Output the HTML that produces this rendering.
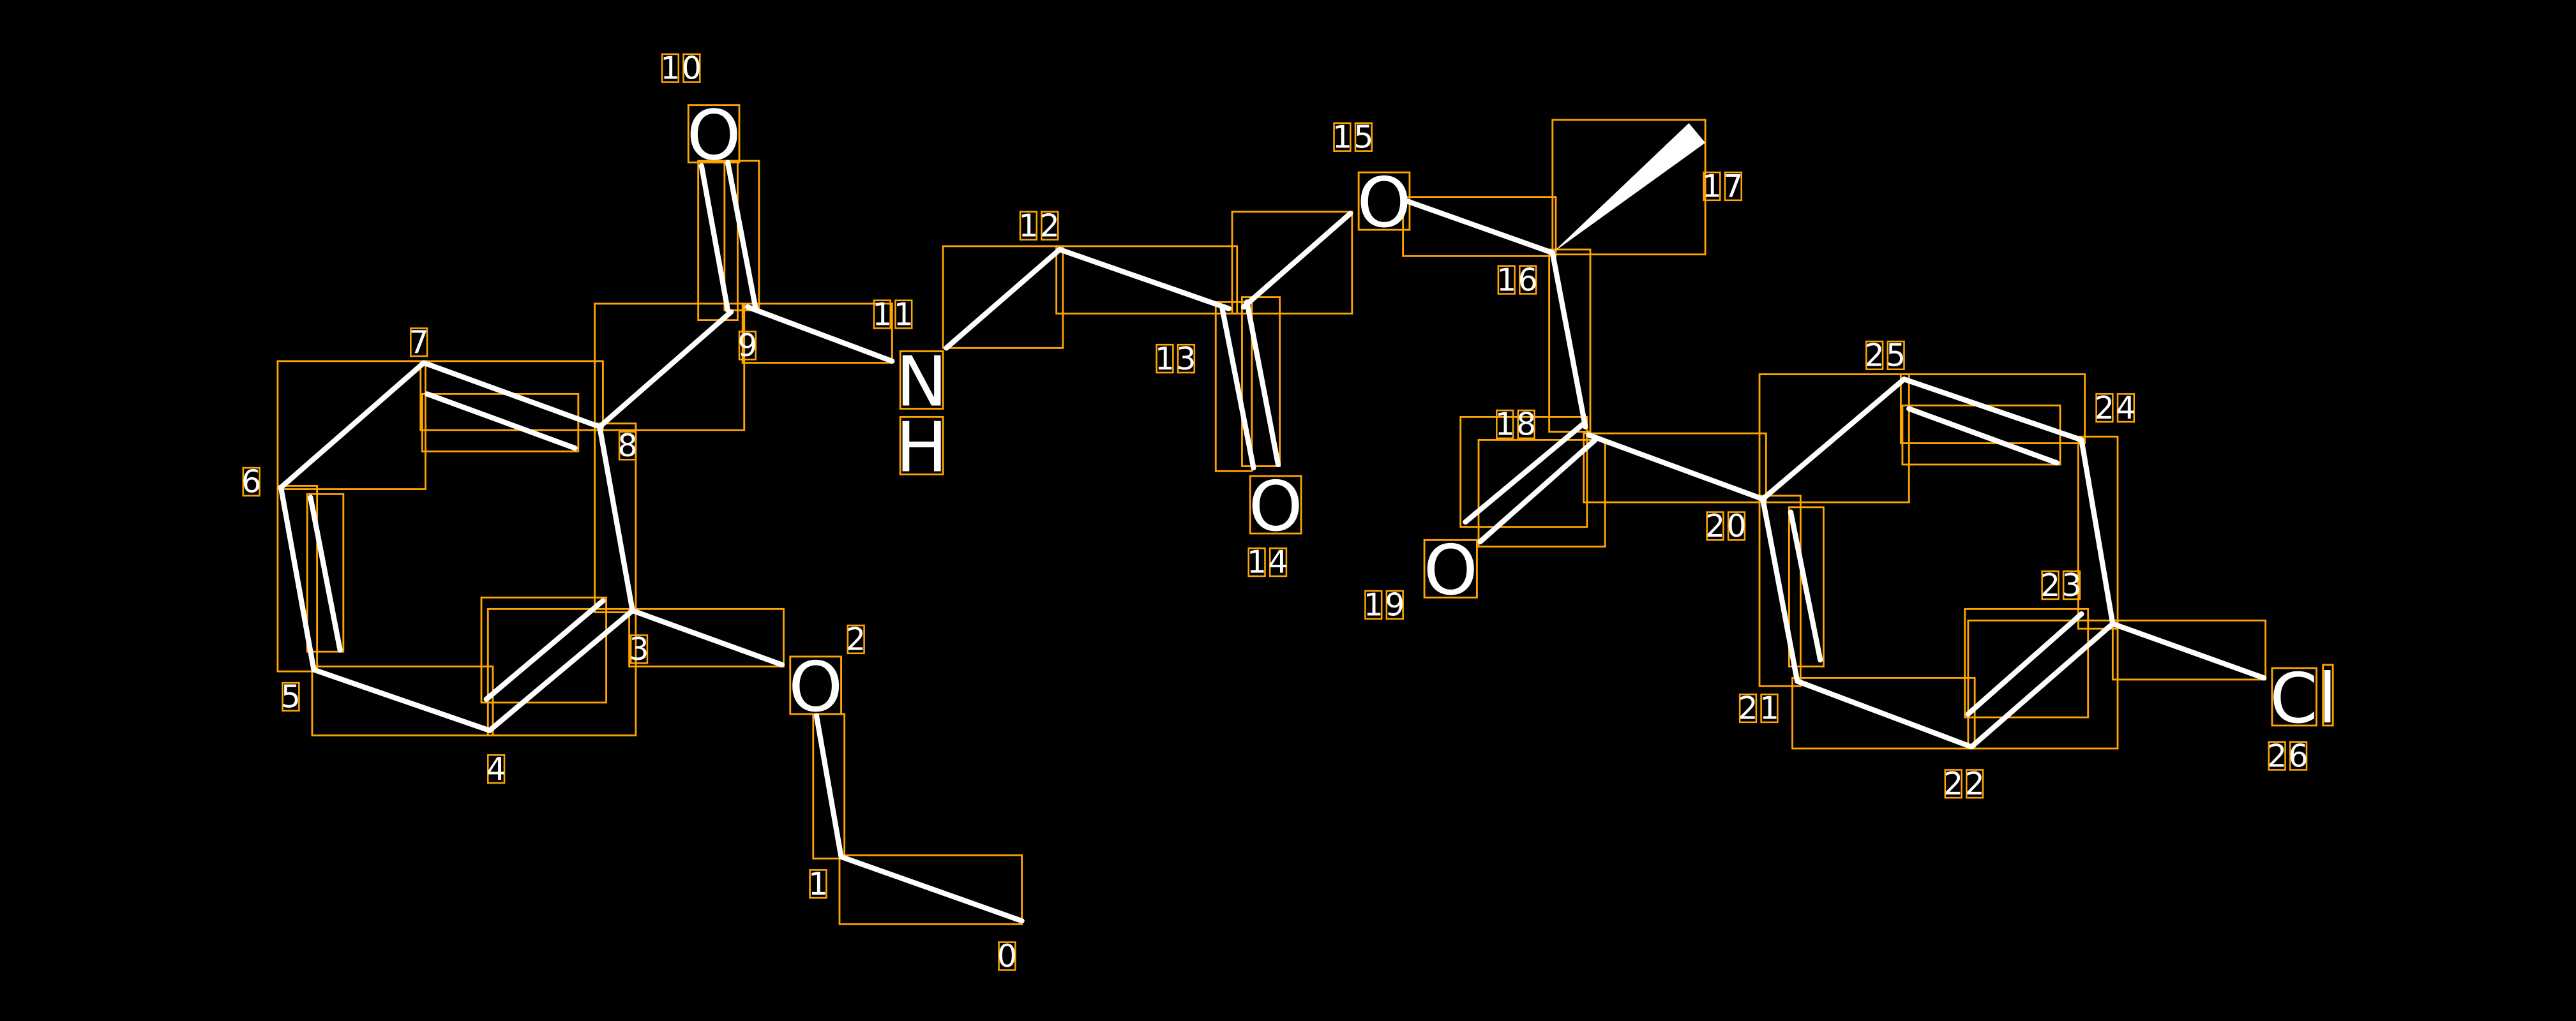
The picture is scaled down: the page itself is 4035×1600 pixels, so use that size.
<!DOCTYPE html>
<html><head><meta charset="utf-8"><style>
html,body{margin:0;padding:0;background:#000;}
svg{display:block}
text{font-family:"DejaVu Sans","Liberation Sans",sans-serif;fill:#fff;text-anchor:middle;}
</style></head><body>
<svg width="4035" height="1600" viewBox="0 0 1568 622" preserveAspectRatio="none" xmlns="http://www.w3.org/2000/svg">
<rect x="0" y="0" width="1568" height="622" fill="#000"/>
<g fill="none" stroke="#FFA500" stroke-width="1.1">
<rect x="511" y="521" width="111" height="42"/>
<rect x="495" y="435" width="19" height="88"/>
<rect x="383" y="371" width="94" height="35"/>
<rect x="293" y="364" width="76" height="64"/>
<rect x="297" y="371" width="90" height="77"/>
<rect x="190" y="406" width="110" height="42"/>
<rect x="169" y="296" width="24" height="113"/>
<rect x="187" y="301" width="22" height="96"/>
<rect x="169" y="220" width="90" height="78"/>
<rect x="256" y="220" width="111" height="42"/>
<rect x="257" y="240" width="95" height="35"/>
<rect x="362" y="258" width="25" height="115"/>
<rect x="362" y="185" width="91" height="77"/>
<rect x="425" y="98" width="24" height="97"/>
<rect x="441" y="98" width="21" height="91"/>
<rect x="452" y="185" width="91" height="36"/>
<rect x="574" y="150" width="73" height="62"/>
<rect x="643" y="150" width="110" height="41"/>
<rect x="740" y="184" width="22" height="103"/>
<rect x="756" y="181" width="23" height="103"/>
<rect x="750" y="129" width="73" height="62"/>
<rect x="854" y="120" width="93" height="36"/>
<rect x="945" y="73" width="93" height="82"/>
<rect x="943" y="152" width="25" height="111"/>
<rect x="889" y="254" width="77" height="67"/>
<rect x="900" y="268" width="77" height="65"/>
<rect x="964" y="264" width="111" height="42"/>
<rect x="1071" y="302" width="25" height="116"/>
<rect x="1089" y="309" width="21" height="97"/>
<rect x="1091" y="413" width="111" height="43"/>
<rect x="1196" y="371" width="75" height="66"/>
<rect x="1198" y="378" width="91" height="78"/>
<rect x="1265" y="266" width="24" height="117"/>
<rect x="1157" y="228" width="112" height="42"/>
<rect x="1158" y="247" width="96" height="36"/>
<rect x="1071" y="228" width="91" height="78"/>
<rect x="1286" y="378" width="93" height="36"/>
<!-- atom label boxes -->
<rect x="419" y="64" width="31" height="35"/>
<rect x="481" y="400" width="31" height="35"/>
<rect x="548" y="214" width="26" height="35"/>
<rect x="548" y="254" width="26" height="35"/>
<rect x="827" y="105" width="31" height="35"/>
<rect x="761" y="290" width="31" height="35"/>
<rect x="867" y="329" width="32" height="35"/>
<rect x="1383" y="407" width="27" height="35"/>
<rect x="1414" y="405" width="6" height="37"/>
</g>
<g stroke="#fff" stroke-width="3.2" stroke-linecap="round" fill="none">
<line x1="622" y1="561" x2="512" y2="522"/>
<line x1="512" y1="522" x2="497" y2="436"/>
<line x1="476" y1="405" x2="385" y2="372"/>
<line x1="385" y1="372" x2="298" y2="445"/>
<line x1="367" y1="366" x2="296" y2="426"/>
<line x1="298" y1="445" x2="191" y2="408"/>
<line x1="191" y1="408" x2="171" y2="297"/>
<line x1="189" y1="303" x2="207" y2="396"/>
<line x1="171" y1="297" x2="258" y2="221"/>
<line x1="258" y1="221" x2="365" y2="260"/>
<line x1="260" y1="240" x2="350" y2="273"/>
<line x1="365" y1="260" x2="385" y2="372"/>
<line x1="365" y1="260" x2="445" y2="190"/>
<line x1="427" y1="101" x2="443" y2="189"/>
<line x1="443" y1="99" x2="460" y2="188"/>
<line x1="455" y1="187" x2="543" y2="220"/>
<line x1="576" y1="212" x2="645" y2="152"/>
<line x1="645" y1="152" x2="748" y2="188"/>
<line x1="744" y1="188" x2="763" y2="285"/>
<line x1="759" y1="184" x2="778" y2="283"/>
<line x1="757" y1="187" x2="822" y2="130"/>
<line x1="855" y1="122" x2="945" y2="154"/>
<line x1="945" y1="154" x2="965" y2="260"/>
<line x1="964" y1="258" x2="892" y2="318"/>
<line x1="971" y1="268" x2="901" y2="330"/>
<line x1="967" y1="265" x2="1073" y2="304"/>
<line x1="1073" y1="304" x2="1094" y2="415"/>
<line x1="1090" y1="312" x2="1108" y2="402"/>
<line x1="1094" y1="415" x2="1200" y2="455"/>
<line x1="1200" y1="455" x2="1286" y2="380"/>
<line x1="1198" y1="435" x2="1267" y2="374"/>
<line x1="1286" y1="380" x2="1267" y2="268"/>
<line x1="1267" y1="268" x2="1159" y2="231"/>
<line x1="1162" y1="249" x2="1252" y2="282"/>
<line x1="1159" y1="231" x2="1073" y2="304"/>
<line x1="1286" y1="380" x2="1378" y2="413"/>
</g>
<polygon points="945,154 1028,75 1038,87" fill="#fff"/>
<!-- atom labels -->
<g font-size="42">
<text x="434.5" y="97">O</text>
<text x="496.5" y="433">O</text>
<text x="561" y="247">N</text>
<text x="561" y="287">H</text>
<text x="842.5" y="138">O</text>
<text x="776.5" y="323">O</text>
<text x="883" y="362">O</text>
<text x="1402" y="440">Cl</text>
</g>
<!-- index labels -->
<g fill="none" stroke="#FFA500" stroke-width="1">
<rect x="403" y="33" width="10" height="17"/><rect x="416" y="33" width="10" height="17"/>
<rect x="608" y="574" width="10" height="17"/>
<rect x="493" y="530" width="10" height="17"/>
<rect x="516" y="381" width="10" height="17"/>
<rect x="384" y="387" width="10" height="17"/>
<rect x="297" y="460" width="10" height="17"/>
<rect x="172" y="416" width="10" height="17"/>
<rect x="148" y="285" width="10" height="17"/>
<rect x="250" y="200" width="10" height="17"/>
<rect x="377" y="263" width="10" height="17"/>
<rect x="450" y="202" width="10" height="17"/>
<rect x="532" y="183" width="10" height="17"/><rect x="545" y="183" width="10" height="17"/>
<rect x="621" y="129" width="10" height="17"/><rect x="634" y="129" width="10" height="17"/>
<rect x="704" y="210" width="10" height="17"/><rect x="717" y="210" width="10" height="17"/>
<rect x="760" y="334" width="10" height="17"/><rect x="773" y="334" width="10" height="17"/>
<rect x="812" y="75" width="10" height="17"/><rect x="825" y="75" width="10" height="17"/>
<rect x="912" y="162" width="10" height="17"/><rect x="925" y="162" width="10" height="17"/>
<rect x="1037" y="105" width="10" height="17"/><rect x="1050" y="105" width="10" height="17"/>
<rect x="911" y="250" width="10" height="17"/><rect x="924" y="250" width="10" height="17"/>
<rect x="831" y="360" width="10" height="17"/><rect x="844" y="360" width="10" height="17"/>
<rect x="1039" y="312" width="10" height="17"/><rect x="1052" y="312" width="10" height="17"/>
<rect x="1059" y="423" width="10" height="17"/><rect x="1072" y="423" width="10" height="17"/>
<rect x="1184" y="469" width="10" height="17"/><rect x="1197" y="469" width="10" height="17"/>
<rect x="1243" y="348" width="10" height="17"/><rect x="1256" y="348" width="10" height="17"/>
<rect x="1276" y="240" width="10" height="17"/><rect x="1289" y="240" width="10" height="17"/>
<rect x="1136" y="208" width="10" height="17"/><rect x="1149" y="208" width="10" height="17"/>
<rect x="1381" y="452" width="10" height="17"/><rect x="1394" y="452" width="10" height="17"/>
</g>
<g font-size="19">
<text x="408" y="48">1</text><text x="421" y="48">0</text>
<text x="613" y="589">0</text>
<text x="498" y="545">1</text>
<text x="521" y="396">2</text>
<text x="389" y="402">3</text>
<text x="302" y="475">4</text>
<text x="177" y="431">5</text>
<text x="153" y="300">6</text>
<text x="255" y="215">7</text>
<text x="382" y="278">8</text>
<text x="455" y="217">9</text>
<text x="537" y="198">1</text><text x="550" y="198">1</text>
<text x="626" y="144">1</text><text x="639" y="144">2</text>
<text x="709" y="225">1</text><text x="722" y="225">3</text>
<text x="765" y="349">1</text><text x="778" y="349">4</text>
<text x="817" y="90">1</text><text x="830" y="90">5</text>
<text x="917" y="177">1</text><text x="930" y="177">6</text>
<text x="1042" y="120">1</text><text x="1055" y="120">7</text>
<text x="916" y="265">1</text><text x="929" y="265">8</text>
<text x="836" y="375">1</text><text x="849" y="375">9</text>
<text x="1044" y="327">2</text><text x="1057" y="327">0</text>
<text x="1064" y="438">2</text><text x="1077" y="438">1</text>
<text x="1189" y="484">2</text><text x="1202" y="484">2</text>
<text x="1248" y="363">2</text><text x="1261" y="363">3</text>
<text x="1281" y="255">2</text><text x="1294" y="255">4</text>
<text x="1141" y="223">2</text><text x="1154" y="223">5</text>
<text x="1386" y="467">2</text><text x="1399" y="467">6</text>
</g>
</svg>
</body></html>
